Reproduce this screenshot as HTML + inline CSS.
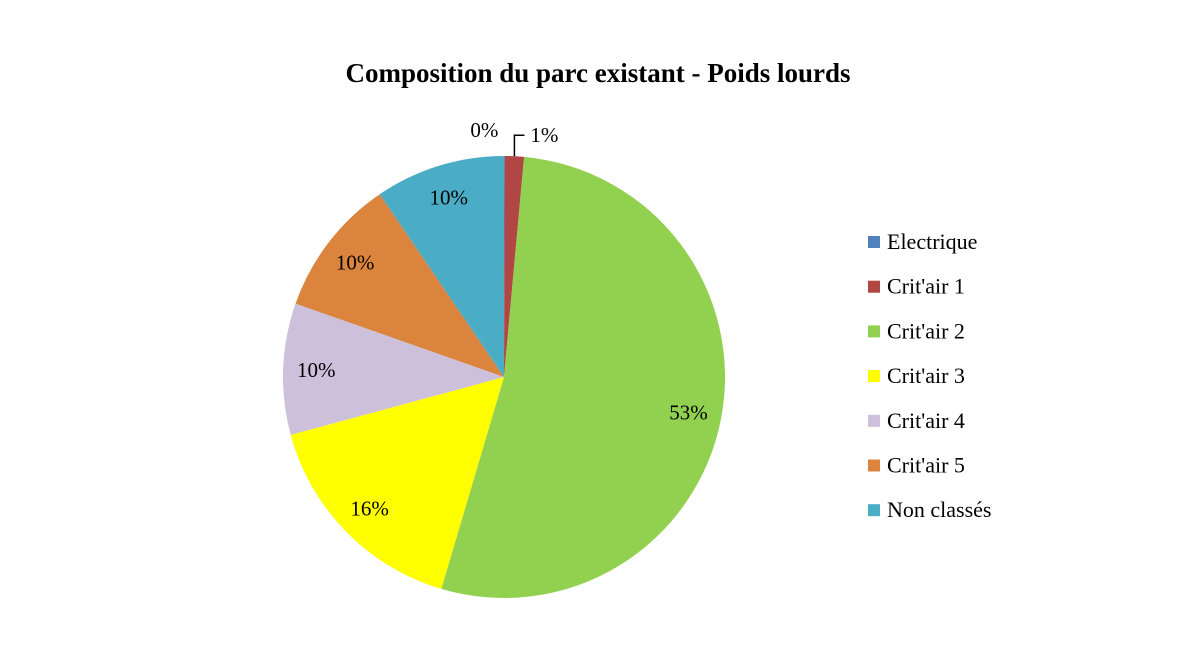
<!DOCTYPE html>
<html><head><meta charset="utf-8"><style>
body{margin:0;background:#fff;}
svg{display:block;font-family:"Liberation Serif",serif;}
</style></head><body>
<svg id="chart" width="1191" height="647">
<text x="598" y="82" text-anchor="middle" font-size="27" font-weight="bold">Composition du parc existant - Poids lourds</text>
<g id="slices"></g><g id="labels"></g><g id="legend"></g>
</svg>
<script>
const categories=["Electrique","Crit'air 1","Crit'air 2","Crit'air 3","Crit'air 4","Crit'air 5","Non classés"];
const values=[0.05,1.4,53.1,16.2,9.6,10.1,9.5];
const valueLabels=["0%","1%","53%","16%","10%","10%","10%"];
const colors=["#4F81BD","#B04745","#92D050","#FFFF00","#CCC0DA","#DB843D","#4BACC6"];
const NS="http://www.w3.org/2000/svg";
const cx=504,cy=377,r=221;
const total=values.reduce((a,b)=>a+b,0);
const gS=document.getElementById('slices'),gL=document.getElementById('labels'),gG=document.getElementById('legend');
function pt(a,rr){return [cx+rr*Math.sin(a),cy-rr*Math.cos(a)];}
let cum=0;
values.forEach((v,i)=>{
  const a0=cum/total*2*Math.PI; cum+=v; const a1=cum/total*2*Math.PI;
  const p0=pt(a0,r),p1=pt(a1,r);
  const path=document.createElementNS(NS,'path');
  path.setAttribute('d',`M${cx},${cy}L${p0[0]},${p0[1]}A${r},${r} 0 ${a1-a0>Math.PI?1:0} 1 ${p1[0]},${p1[1]}Z`);
  path.setAttribute('fill',colors[i]);
  
  
  gS.appendChild(path);
  const am=(a0+a1)/2;
  const t=document.createElementNS(NS,'text');
  t.setAttribute('font-size','21');t.setAttribute('text-anchor','middle');
  let x,y;
  if(v/total<0.005){const p=pt(am,r+20);x=p[0]-20;y=p[1]-6;}
  else if(v/total<0.03){
    const p=pt(am,r);
    const ln=document.createElementNS(NS,'path');
    ln.setAttribute('d',`M${p[0]},${p[1]}L${p[0]},${p[1]-21}L${p[0]+10},${p[1]-21}`);
    ln.setAttribute('stroke','#000');ln.setAttribute('fill','none');ln.setAttribute('stroke-width','1.5');
    
    
    gL.appendChild(ln);
    x=p[0]+30;y=p[1]-21;
  } else {const p=pt(am,r*0.85);x=p[0];y=p[1];}
  t.setAttribute('x',x);t.setAttribute('y',y+7);t.textContent=valueLabels[i];
  
  
  gL.appendChild(t);
  const ly=242+i*44.7;
  const sq=document.createElementNS(NS,'rect');
  sq.setAttribute('x',868);sq.setAttribute('y',ly-6);sq.setAttribute('width',12);sq.setAttribute('height',12);sq.setAttribute('fill',colors[i]);
  
  
  gG.appendChild(sq);
  const lt=document.createElementNS(NS,'text');
  lt.setAttribute('x',887);lt.setAttribute('y',ly+7);lt.setAttribute('font-size','22');lt.textContent=categories[i];
  
  
  gG.appendChild(lt);
});
</script>
</body></html>
